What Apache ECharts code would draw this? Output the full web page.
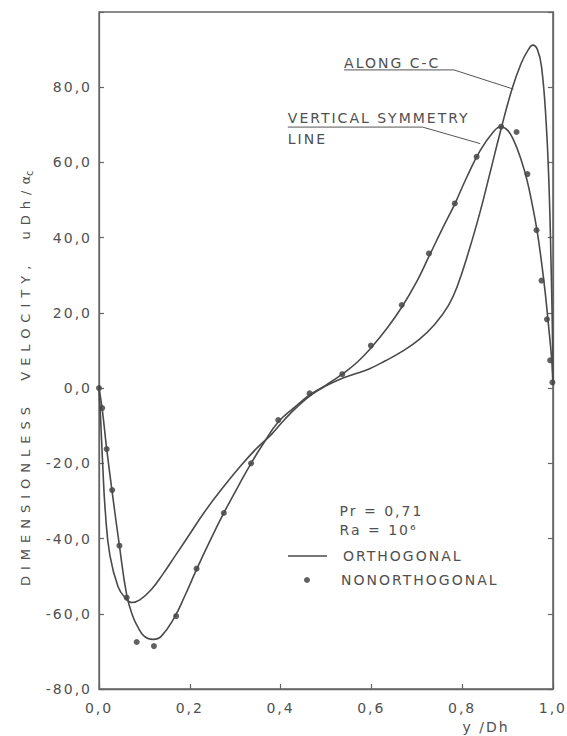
<!DOCTYPE html>
<html><head><meta charset="utf-8">
<script src="https://cdn.jsdelivr.net/npm/echarts@6/dist/echarts.min.js"></script>
<style>
html,body{margin:0;padding:0;background:#fff;}
#c{width:567px;height:736px;}
#c text{letter-spacing:2px;}
</style></head><body><div id="c"></div>
<script>
// Curve "ALONG C-C" (orthogonal grid)
const ccX = [0, 0.003, 0.008, 0.014, 0.024, 0.042, 0.058, 0.073, 0.09, 0.115, 0.14, 0.17, 0.2, 0.232, 0.27, 0.31, 0.345, 0.38, 0.41, 0.44, 0.47, 0.5, 0.53, 0.56, 0.595, 0.63, 0.667, 0.705, 0.74, 0.77, 0.79, 0.815, 0.84, 0.86, 0.885, 0.91, 0.93, 0.945, 0.956, 0.966, 0.975, 0.985, 0.992, 0.996, 0.999, 1.0];
const ccY = [0, -6.7, -20, -33, -44.5, -52.8, -55.8, -57, -56.3, -53.6, -49.6, -44.2, -38.8, -33, -26.9, -21, -16.3, -12.3, -8.2, -4.6, -1.6, 0.6, 2.3, 3.6, 5.1, 7.2, 9.7, 12.9, 17, 22, 27.3, 36.5, 47, 56.5, 68.5, 79.5, 86.3, 89.8, 91.2, 90, 85.5, 71, 52, 33, 15, 1];
// Curve "VERTICAL SYMMETRY LINE" (orthogonal grid)
const vsX = [0, 0.007, 0.017, 0.03, 0.045, 0.061, 0.074, 0.086, 0.1, 0.119, 0.137, 0.166, 0.19, 0.215, 0.245, 0.275, 0.305, 0.335, 0.365, 0.395, 0.43, 0.464, 0.5, 0.536, 0.57, 0.6, 0.635, 0.667, 0.7, 0.727, 0.755, 0.784, 0.81, 0.84, 0.87, 0.885, 0.9, 0.914, 0.93, 0.943, 0.955, 0.965, 0.975, 0.983, 0.99, 0.995, 0.998, 1.0];
const vsY = [0, -5.5, -16.2, -28.5, -41.9, -55, -60.5, -63.6, -66, -66.8, -66, -61, -55, -48.2, -40.5, -33.2, -26.5, -20, -14.2, -9, -5.2, -1.8, 0.8, 3.7, 7, 10.8, 16, 21.5, 28.3, 35, 42, 49, 56, 63.2, 68.3, 69.5, 68.6, 65.8, 60.7, 55.3, 48.5, 42, 33.5, 25.5, 17.2, 11, 6.6, 1];
// Nonorthogonal grid points
const dotX = [0.000, 0.007, 0.017, 0.029, 0.045, 0.061, 0.083, 0.121, 0.170, 0.215, 0.275, 0.335, 0.395, 0.464, 0.536, 0.599, 0.667, 0.727, 0.784, 0.832, 0.886, 0.920, 0.944, 0.964, 0.975, 0.987, 0.994, 0.999];
const dotY = [0.0, -5.3, -16.2, -27.1, -41.9, -55.7, -67.5, -68.6, -60.6, -48.0, -33.2, -20.0, -8.5, -1.4, 3.7, 11.3, 22.1, 35.8, 49.1, 61.5, 69.5, 68.1, 56.9, 42.0, 28.6, 18.3, 7.4, 1.5];

const xMin = 0, xMax = 1, xStep = 0.2;
const yMin = -80, yMax = 100, yStep = 20, yLabelMax = 80;

const INK = '#4a4a4a';
const TXT = '#505050';
const FONT = 'DejaVu Sans';
const fmt = v => v.toFixed(1).replace('.', ',');

const pair = (xs, ys) => xs.map((x, i) => [x, ys[i]]);

const chart = echarts.init(document.getElementById('c'), null, {renderer: 'svg'});
const axisLine = {show: true, onZero: false, lineStyle: {color: '#666', width: 1.3}};
const tick = {show: true, inside: true, length: 5, lineStyle: {color: '#666', width: 1.2}};
chart.setOption({
  animation: false,
  backgroundColor: '#fff',
  grid: {left: 99, right: 10, top: 12, bottom: 47, show: true, borderColor: '#666', borderWidth: 1.3, backgroundColor: 'transparent'},
  xAxis: [{
    type: 'value', min: xMin, max: xMax, interval: xStep,
    axisLine: axisLine, axisTick: tick,
    axisLabel: {formatter: v => fmt(v), color: TXT, fontFamily: FONT, fontSize: 14, margin: 12},
    splitLine: {show: false}
  }],
  yAxis: [{
    type: 'value', min: yMin, max: yMax, interval: yStep,
    axisLine: axisLine, axisTick: tick,
    axisLabel: {formatter: v => v > yLabelMax ? '' : fmt(v), color: TXT, fontFamily: FONT, fontSize: 14, margin: 7},
    splitLine: {show: false}
  }, {
    type: 'value', show: true, position: 'right', min: yMin, max: yMax, interval: yStep,
    axisLine: axisLine, axisTick: tick,
    axisLabel: {show: false}, splitLine: {show: false}
  }],
  legend: [{
    data: [{name: 'ORTHOGONAL', icon: 'rect'}],
    left: 288, top: 548, padding: 0, itemWidth: 39, itemHeight: 1.6,
    selectedMode: false,
    textStyle: {color: TXT, fontFamily: FONT, fontSize: 14, lineHeight: 16, padding: [0, 0, 0, 11]}
  }, {
    data: [{name: 'NONORTHOGONAL', icon: 'circle'}],
    left: 304, top: 572, padding: 0, itemWidth: 6, itemHeight: 6,
    selectedMode: false,
    textStyle: {color: TXT, fontFamily: FONT, fontSize: 14, lineHeight: 16, padding: [0, 0, 0, 26]}
  }],
  series: [{
    name: 'ORTHOGONAL', type: 'line', data: pair(ccX, ccY),
    symbol: 'none', smooth: 0.45,
    lineStyle: {color: INK, width: 1.6}, itemStyle: {color: INK}
  }, {
    name: 'ORTHOGONAL', type: 'line', data: pair(vsX, vsY),
    symbol: 'none', smooth: 0.45,
    lineStyle: {color: INK, width: 1.6}, itemStyle: {color: INK}
  }, {
    // same scale as the left axis; bound to the right axis so its ticks are drawn
    name: 'NONORTHOGONAL', type: 'scatter', yAxisIndex: 1, data: pair(dotX, dotY),
    symbol: 'circle', symbolSize: 6, itemStyle: {color: '#3a3a3a'}
  }]
});

// Annotations (anchored in data coordinates)
const annCC = {label: 'ALONG C-C', text: [0.54, 86.4], line: [[0.54, 84.6], [0.782, 84.6], [0.913, 79.5]]};
const annVS = {label1: 'VERTICAL SYMMETRY', label2: 'LINE', text1: [0.416, 71.8], text2: [0.416, 66.2],
               line: [[0.416, 69.4], [0.713, 69.4], [0.84, 65]]};
const px = p => chart.convertToPixel({gridIndex: 0}, p);
const tStyle = (text, extra) => Object.assign({text: text, fill: TXT, font: '14px "' + FONT + '"', textVerticalAlign: 'middle'}, extra || {});
const gfx = [];
let p = px(annCC.text);
gfx.push({type: 'text', x: p[0], y: p[1], style: tStyle(annCC.label)});
gfx.push({type: 'polyline', shape: {points: annCC.line.map(px)}, style: {stroke: '#555', lineWidth: 1, fill: null}});
p = px(annVS.text1);
gfx.push({type: 'text', x: p[0], y: p[1], style: tStyle(annVS.label1)});
p = px(annVS.text2);
gfx.push({type: 'text', x: p[0], y: p[1], style: tStyle(annVS.label2)});
gfx.push({type: 'polyline', shape: {points: annVS.line.map(px)}, style: {stroke: '#555', lineWidth: 1, fill: null}});
// Parameters
p = px([0.53, -32.8]);
gfx.push({type: 'text', x: p[0], y: p[1], style: tStyle('Pr = 0,71')});
p = px([0.53, -37.6]);
gfx.push({type: 'text', x: p[0], y: p[1], style: tStyle('Ra = 10\u2076')});
// Axis titles
gfx.push({type: 'text', x: 25, y: 170, rotation: Math.PI / 2,
  style: {text: 'DIMENSIONLESS  VELOCITY,  uDh/α', fill: TXT, font: '13px "' + FONT + '"', textAlign: 'right', textVerticalAlign: 'middle'}});
gfx.push({type: 'text', x: 29, y: 176, rotation: Math.PI / 2,
  style: {text: 'c', fill: TXT, font: '10px "' + FONT + '"', textAlign: 'left', textVerticalAlign: 'middle'}});
gfx.push({type: 'text', x: 486, y: 727, style: tStyle('y /Dh', {textAlign: 'center'})});
chart.setOption({graphic: gfx});

function widenTitle() {
  document.querySelectorAll('#c text').forEach(t => {
    if (t.textContent.indexOf('DIMENSIONLESS') === 0) t.style.letterSpacing = '6px';
  });
}
chart.on('rendered', widenTitle);
widenTitle();
</script>
</body></html>
